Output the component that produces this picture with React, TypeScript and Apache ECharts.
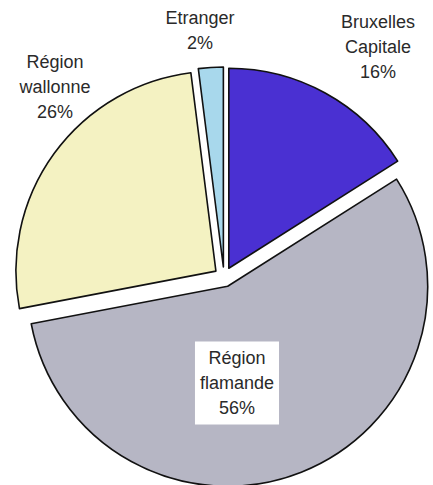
import React, { useEffect, useRef } from "react";
import * as echarts from "echarts";

const categories = ["Bruxelles\nCapitale", "Région\nflamande", "Région\nwallonne", "Etranger"];
const shares = [16, 56, 26, 2];
const colors = ["#4a30d2", "#b6b6c4", "#f4f2c2", "#a8d8ec"];

const labelPos: [number, number][] = [
  [378, 47],
  [237, 383],
  [55, 87],
  [200, 30],
];

export default function App() {
  const ref = useRef<HTMLDivElement>(null);
  useEffect(() => {
    if (!ref.current) return;
    const chart = echarts.init(ref.current, null, { renderer: "svg" });
    const itemStyleFor = (i: number) => ({
      color: colors[i],
      borderColor: "#111",
      borderWidth: 1.6,
    });
    chart.setOption({
      animation: false,
      backgroundColor: "#ffffff",
      series: [
        {
          type: "pie",
          center: [224, 277],
          radius: 200,
          startAngle: 90,
          clockwise: true,
          selectedMode: "multiple",
          selectedOffset: 10,
          emphasis: { disabled: true },
          label: { show: false },
          labelLine: { show: false },
          data: categories.map((name, i) => ({
            name,
            value: shares[i],
            selected: true,
            itemStyle: itemStyleFor(i),
            select: { itemStyle: itemStyleFor(i) },
          })),
        },
      ],
      graphic: categories.map((name, i) => ({
        type: "text",
        x: labelPos[i][0],
        y: labelPos[i][1],
        z: 100,
        silent: true,
        style: {
          text: `${name}\n${shares[i]}%`,
          font: '18px "Liberation Sans", Arial, sans-serif',
          lineHeight: 25,
          fill: "#2a2a2a",
          align: "center",
          verticalAlign: "middle",
          ...(i === 1
            ? { backgroundColor: "#ffffff", padding: [4, 5, 4, 5] }
            : {}),
        },
      })),
    });
    return () => chart.dispose();
  }, []);
  return (
    <div
      ref={ref}
      style={{ position: "fixed", left: 0, top: 0, width: 433, height: 485 }}
    />
  );
}
